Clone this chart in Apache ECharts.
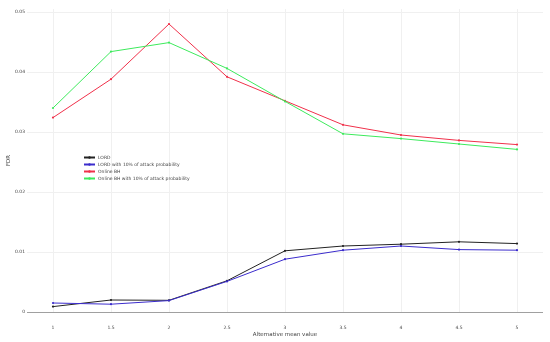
<!DOCTYPE html>
<html><head><meta charset="utf-8">
<script src="https://cdn.jsdelivr.net/npm/echarts@6/dist/echarts.min.js"></script>
<style>html,body{margin:0;padding:0;background:#fff}#c{width:550px;height:342px}</style>
</head><body><div id="c"></div>
<script>
const xValues = [1, 1.5, 2, 2.5, 3, 3.5, 4, 4.5, 5];
const xTicks = [1, 1.5, 2, 2.5, 3, 3.5, 4, 4.5, 5];
const yTicks = [0, 0.01, 0.02, 0.03, 0.04, 0.05];
const seriesNames = ['LORD', 'LORD with 10% of attack probability', 'Online BH', 'Online BH with 10% of attack probability'];
const lord = [0.0009, 0.0020, 0.00195, 0.0052, 0.0102, 0.0110, 0.0113, 0.0117, 0.0114];
const lordAttack = [0.0015, 0.0013, 0.0019, 0.0051, 0.0088, 0.0103, 0.0110, 0.0104, 0.0103];
const onlineBH = [0.0324, 0.0388, 0.0480, 0.0392, 0.0352, 0.0312, 0.0295, 0.0286, 0.0279];
const onlineBHAttack = [0.0340, 0.0434, 0.0449, 0.0406, 0.0351, 0.0297, 0.0289, 0.0280, 0.0271];
const colors = ['#222222', '#3b2ccc', '#f0304a', '#3dea5c'];

const dataSets = [lord, lordAttack, onlineBH, onlineBHAttack];
const chart = echarts.init(document.getElementById('c'));
const font = 'DejaVu Sans';
chart.setOption({
  animation: false,
  grid: { left: 27, right: 7, top: 9, bottom: 30, containLabel: false, outerBoundsMode: 'none' },
  legend: {
    left: 78, top: 150, orient: 'vertical',
    itemWidth: 11, itemHeight: 3, itemGap: 2,
    textStyle: { fontFamily: font, fontSize: 4.5, color: '#444', padding: [0,0,0,-2] },
    data: seriesNames
  },
  xAxis: {
    type: 'value', min: 0.776, max: 5.224,
    name: 'Alternative mean value', nameLocation: 'middle', nameGap: 20, nameMoveOverlap: false,
    nameTextStyle: { fontFamily: font, fontSize: 5.5, color: '#444' },
    axisLine: { show: false },
    axisTick: { show: false, customValues: xTicks },
    axisLabel: { customValues: xTicks, fontFamily: font, fontSize: 4.5, color: '#444', margin: 13 },
    splitLine: { show: true, lineStyle: { color: '#f0f0f0', width: 1 } }
  },
  yAxis: {
    type: 'value', min: 0, max: 0.0505,
    name: 'FDR', nameLocation: 'middle', nameGap: 15, nameMoveOverlap: false,
    nameTextStyle: { fontFamily: font, fontSize: 5.5, color: '#444' },
    axisLine: { show: false },
    axisTick: { show: false, customValues: yTicks },
    axisLabel: { customValues: yTicks, fontFamily: font, fontSize: 4.5, color: '#444', margin: 2,
      formatter: v => (Math.round(v * 100) / 100).toString() },
    splitLine: { show: true, lineStyle: { color: '#f0f0f0', width: 1 } }
  },
  series: seriesNames.map((n, i) => ({
    name: n, type: 'line',
    data: xValues.map((x, j) => [x, dataSets[i][j]]),
    symbol: 'circle', symbolSize: 2.2, showSymbol: true,
    lineStyle: { width: 1, color: colors[i] },
    itemStyle: { color: colors[i] },
    color: colors[i],
    z: 3,
    markLine: i === 0 ? {
      silent: true, symbol: 'none', label: { show: false },
      lineStyle: { color: '#a0a0a0', width: 1, type: 'solid' },
      data: [{ yAxis: 0 }]
    } : undefined
  }))
});
</script></body></html>
